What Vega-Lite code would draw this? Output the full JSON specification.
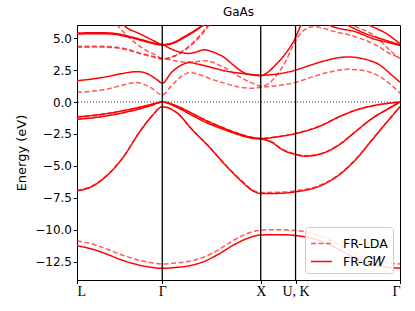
{
  "$schema": "https://vega.github.io/schema/vega-lite/v6.json",
  "width": 323,
  "height": 255,
  "autosize": {"type": "none"},
  "padding": {"left": 77, "top": 25, "right": 15, "bottom": 31},
  "background": "white",
  "title": {"text": "GaAs", "font": "DejaVu Sans", "fontSize": 12, "fontWeight": "normal", "offset": 5, "color": "black"},
  "config": {
    "view": {"stroke": "black", "strokeWidth": 1},
    "axis": {"domainColor": "black", "tickColor": "black", "labelColor": "black", "titleColor": "black", "grid": false, "labelOverlap": false}
  },
  "datasets": {
    "bands": [
      {"m":"FR-GW","b":"Gs","k":0,"E":-11.25},{"m":"FR-GW","b":"Gs","k":0.15,"E":-11.5},{"m":"FR-GW","b":"Gs","k":0.3,"E":-11.9},{"m":"FR-GW","b":"Gs","k":0.45,"E":-12.35},{"m":"FR-GW","b":"Gs","k":0.6,"E":-12.7},{"m":"FR-GW","b":"Gs","k":0.75,"E":-12.93},{"m":"FR-GW","b":"Gs","k":0.866,"E":-13.02},{"m":"FR-GW","b":"Gs","k":1.0,"E":-12.95},{"m":"FR-GW","b":"Gs","k":1.15,"E":-12.8},{"m":"FR-GW","b":"Gs","k":1.3,"E":-12.45},{"m":"FR-GW","b":"Gs","k":1.45,"E":-11.85},{"m":"FR-GW","b":"Gs","k":1.6,"E":-11.15},{"m":"FR-GW","b":"Gs","k":1.75,"E":-10.62},{"m":"FR-GW","b":"Gs","k":1.866,"E":-10.41},{"m":"FR-GW","b":"Gs","k":2.05,"E":-10.38},{"m":"FR-GW","b":"Gs","k":2.22,"E":-10.45},{"m":"FR-GW","b":"Gs","k":2.4,"E":-10.7},{"m":"FR-GW","b":"Gs","k":2.6,"E":-11.3},{"m":"FR-GW","b":"Gs","k":2.8,"E":-12.1},{"m":"FR-GW","b":"Gs","k":3.0,"E":-12.7},{"m":"FR-GW","b":"Gs","k":3.15,"E":-12.93},{"m":"FR-GW","b":"Gs","k":3.281,"E":-13.0},

      {"m":"FR-LDA","b":"Ds","k":0,"E":-10.86},{"m":"FR-LDA","b":"Ds","k":0.15,"E":-11.1},{"m":"FR-LDA","b":"Ds","k":0.3,"E":-11.5},{"m":"FR-LDA","b":"Ds","k":0.45,"E":-11.95},{"m":"FR-LDA","b":"Ds","k":0.6,"E":-12.32},{"m":"FR-LDA","b":"Ds","k":0.75,"E":-12.57},{"m":"FR-LDA","b":"Ds","k":0.866,"E":-12.67},{"m":"FR-LDA","b":"Ds","k":1.0,"E":-12.6},{"m":"FR-LDA","b":"Ds","k":1.15,"E":-12.45},{"m":"FR-LDA","b":"Ds","k":1.3,"E":-12.1},{"m":"FR-LDA","b":"Ds","k":1.45,"E":-11.5},{"m":"FR-LDA","b":"Ds","k":1.6,"E":-10.78},{"m":"FR-LDA","b":"Ds","k":1.75,"E":-10.23},{"m":"FR-LDA","b":"Ds","k":1.866,"E":-10.02},{"m":"FR-LDA","b":"Ds","k":2.05,"E":-10.0},{"m":"FR-LDA","b":"Ds","k":2.22,"E":-10.05},{"m":"FR-LDA","b":"Ds","k":2.4,"E":-10.3},{"m":"FR-LDA","b":"Ds","k":2.6,"E":-10.92},{"m":"FR-LDA","b":"Ds","k":2.8,"E":-11.75},{"m":"FR-LDA","b":"Ds","k":3.0,"E":-12.35},{"m":"FR-LDA","b":"Ds","k":3.15,"E":-12.6},{"m":"FR-LDA","b":"Ds","k":3.281,"E":-12.67},

      {"m":"FR-GW","b":"Gv1","k":0,"E":-6.95},{"m":"FR-GW","b":"Gv1","k":0.144,"E":-6.64},{"m":"FR-GW","b":"Gv1","k":0.308,"E":-5.73},{"m":"FR-GW","b":"Gv1","k":0.472,"E":-4.3},{"m":"FR-GW","b":"Gv1","k":0.636,"E":-2.34},{"m":"FR-GW","b":"Gv1","k":0.768,"E":-1.04},{"m":"FR-GW","b":"Gv1","k":0.866,"E":-0.38},{"m":"FR-GW","b":"Gv1","k":1.026,"E":-0.91},{"m":"FR-GW","b":"Gv1","k":1.159,"E":-2.08},{"m":"FR-GW","b":"Gv1","k":1.326,"E":-3.38},{"m":"FR-GW","b":"Gv1","k":1.493,"E":-4.82},{"m":"FR-GW","b":"Gv1","k":1.659,"E":-6.12},{"m":"FR-GW","b":"Gv1","k":1.793,"E":-6.98},{"m":"FR-GW","b":"Gv1","k":1.866,"E":-7.16},{"m":"FR-GW","b":"Gv1","k":2.04,"E":-7.15},{"m":"FR-GW","b":"Gv1","k":2.22,"E":-7.03},{"m":"FR-GW","b":"Gv1","k":2.489,"E":-6.5},{"m":"FR-GW","b":"Gv1","k":2.658,"E":-5.73},{"m":"FR-GW","b":"Gv1","k":2.826,"E":-4.55},{"m":"FR-GW","b":"Gv1","k":2.995,"E":-2.99},{"m":"FR-GW","b":"Gv1","k":3.163,"E":-1.43},{"m":"FR-GW","b":"Gv1","k":3.281,"E":-0.38},

      {"m":"FR-LDA","b":"Dv1","k":0,"E":-6.9},{"m":"FR-LDA","b":"Dv1","k":0.144,"E":-6.6},{"m":"FR-LDA","b":"Dv1","k":0.308,"E":-5.7},{"m":"FR-LDA","b":"Dv1","k":0.472,"E":-4.28},{"m":"FR-LDA","b":"Dv1","k":0.636,"E":-2.33},{"m":"FR-LDA","b":"Dv1","k":0.768,"E":-1.03},{"m":"FR-LDA","b":"Dv1","k":0.866,"E":-0.36},{"m":"FR-LDA","b":"Dv1","k":1.026,"E":-0.9},{"m":"FR-LDA","b":"Dv1","k":1.159,"E":-2.06},{"m":"FR-LDA","b":"Dv1","k":1.326,"E":-3.36},{"m":"FR-LDA","b":"Dv1","k":1.493,"E":-4.78},{"m":"FR-LDA","b":"Dv1","k":1.659,"E":-6.06},{"m":"FR-LDA","b":"Dv1","k":1.793,"E":-6.92},{"m":"FR-LDA","b":"Dv1","k":1.866,"E":-7.08},{"m":"FR-LDA","b":"Dv1","k":2.04,"E":-7.06},{"m":"FR-LDA","b":"Dv1","k":2.22,"E":-6.95},{"m":"FR-LDA","b":"Dv1","k":2.489,"E":-6.44},{"m":"FR-LDA","b":"Dv1","k":2.658,"E":-5.68},{"m":"FR-LDA","b":"Dv1","k":2.826,"E":-4.52},{"m":"FR-LDA","b":"Dv1","k":2.995,"E":-2.97},{"m":"FR-LDA","b":"Dv1","k":3.163,"E":-1.42},{"m":"FR-LDA","b":"Dv1","k":3.281,"E":-0.36},

      {"m":"FR-GW","b":"Gv2","k":0,"E":-1.17},{"m":"FR-GW","b":"Gv2","k":0.2,"E":-1.02},{"m":"FR-GW","b":"Gv2","k":0.4,"E":-0.78},{"m":"FR-GW","b":"Gv2","k":0.6,"E":-0.47},{"m":"FR-GW","b":"Gv2","k":0.75,"E":-0.2},{"m":"FR-GW","b":"Gv2","k":0.866,"E":0},{"m":"FR-GW","b":"Gv2","k":1.026,"E":-0.35},{"m":"FR-GW","b":"Gv2","k":1.159,"E":-0.85},{"m":"FR-GW","b":"Gv2","k":1.326,"E":-1.5},{"m":"FR-GW","b":"Gv2","k":1.493,"E":-2.05},{"m":"FR-GW","b":"Gv2","k":1.659,"E":-2.52},{"m":"FR-GW","b":"Gv2","k":1.793,"E":-2.8},{"m":"FR-GW","b":"Gv2","k":1.866,"E":-2.86},{"m":"FR-GW","b":"Gv2","k":2.04,"E":-2.72},{"m":"FR-GW","b":"Gv2","k":2.22,"E":-2.47},{"m":"FR-GW","b":"Gv2","k":2.489,"E":-1.82},{"m":"FR-GW","b":"Gv2","k":2.658,"E":-1.17},{"m":"FR-GW","b":"Gv2","k":2.826,"E":-0.65},{"m":"FR-GW","b":"Gv2","k":2.995,"E":-0.31},{"m":"FR-GW","b":"Gv2","k":3.163,"E":-0.1},{"m":"FR-GW","b":"Gv2","k":3.281,"E":0},

      {"m":"FR-GW","b":"Gv3","k":0,"E":-1.35},{"m":"FR-GW","b":"Gv3","k":0.2,"E":-1.2},{"m":"FR-GW","b":"Gv3","k":0.4,"E":-0.95},{"m":"FR-GW","b":"Gv3","k":0.6,"E":-0.6},{"m":"FR-GW","b":"Gv3","k":0.75,"E":-0.28},{"m":"FR-GW","b":"Gv3","k":0.866,"E":0},{"m":"FR-GW","b":"Gv3","k":1.026,"E":-0.45},{"m":"FR-GW","b":"Gv3","k":1.159,"E":-1.0},{"m":"FR-GW","b":"Gv3","k":1.326,"E":-1.65},{"m":"FR-GW","b":"Gv3","k":1.493,"E":-2.15},{"m":"FR-GW","b":"Gv3","k":1.659,"E":-2.6},{"m":"FR-GW","b":"Gv3","k":1.793,"E":-2.85},{"m":"FR-GW","b":"Gv3","k":1.866,"E":-2.9},{"m":"FR-GW","b":"Gv3","k":1.972,"E":-3.12},{"m":"FR-GW","b":"Gv3","k":2.078,"E":-3.7},{"m":"FR-GW","b":"Gv3","k":2.22,"E":-4.11},{"m":"FR-GW","b":"Gv3","k":2.321,"E":-4.24},{"m":"FR-GW","b":"Gv3","k":2.489,"E":-4.03},{"m":"FR-GW","b":"Gv3","k":2.658,"E":-3.38},{"m":"FR-GW","b":"Gv3","k":2.826,"E":-2.34},{"m":"FR-GW","b":"Gv3","k":2.995,"E":-1.3},{"m":"FR-GW","b":"Gv3","k":3.163,"E":-0.52},{"m":"FR-GW","b":"Gv3","k":3.281,"E":0},

      {"m":"FR-LDA","b":"Dv2","k":0,"E":-1.15},{"m":"FR-LDA","b":"Dv2","k":0.2,"E":-1.0},{"m":"FR-LDA","b":"Dv2","k":0.4,"E":-0.77},{"m":"FR-LDA","b":"Dv2","k":0.6,"E":-0.46},{"m":"FR-LDA","b":"Dv2","k":0.75,"E":-0.2},{"m":"FR-LDA","b":"Dv2","k":0.866,"E":0},{"m":"FR-LDA","b":"Dv2","k":1.026,"E":-0.35},{"m":"FR-LDA","b":"Dv2","k":1.159,"E":-0.84},{"m":"FR-LDA","b":"Dv2","k":1.326,"E":-1.48},{"m":"FR-LDA","b":"Dv2","k":1.493,"E":-2.03},{"m":"FR-LDA","b":"Dv2","k":1.659,"E":-2.5},{"m":"FR-LDA","b":"Dv2","k":1.793,"E":-2.78},{"m":"FR-LDA","b":"Dv2","k":1.866,"E":-2.84},{"m":"FR-LDA","b":"Dv2","k":2.04,"E":-2.7},{"m":"FR-LDA","b":"Dv2","k":2.22,"E":-2.45},{"m":"FR-LDA","b":"Dv2","k":2.489,"E":-1.8},{"m":"FR-LDA","b":"Dv2","k":2.658,"E":-1.16},{"m":"FR-LDA","b":"Dv2","k":2.826,"E":-0.64},{"m":"FR-LDA","b":"Dv2","k":2.995,"E":-0.3},{"m":"FR-LDA","b":"Dv2","k":3.163,"E":-0.1},{"m":"FR-LDA","b":"Dv2","k":3.281,"E":0},

      {"m":"FR-LDA","b":"Dv3","k":0,"E":-1.33},{"m":"FR-LDA","b":"Dv3","k":0.2,"E":-1.18},{"m":"FR-LDA","b":"Dv3","k":0.4,"E":-0.93},{"m":"FR-LDA","b":"Dv3","k":0.6,"E":-0.59},{"m":"FR-LDA","b":"Dv3","k":0.75,"E":-0.27},{"m":"FR-LDA","b":"Dv3","k":0.866,"E":0},{"m":"FR-LDA","b":"Dv3","k":1.026,"E":-0.44},{"m":"FR-LDA","b":"Dv3","k":1.159,"E":-0.98},{"m":"FR-LDA","b":"Dv3","k":1.326,"E":-1.62},{"m":"FR-LDA","b":"Dv3","k":1.493,"E":-2.12},{"m":"FR-LDA","b":"Dv3","k":1.659,"E":-2.57},{"m":"FR-LDA","b":"Dv3","k":1.793,"E":-2.82},{"m":"FR-LDA","b":"Dv3","k":1.866,"E":-2.87},{"m":"FR-LDA","b":"Dv3","k":1.972,"E":-3.08},{"m":"FR-LDA","b":"Dv3","k":2.078,"E":-3.65},{"m":"FR-LDA","b":"Dv3","k":2.22,"E":-4.06},{"m":"FR-LDA","b":"Dv3","k":2.321,"E":-4.2},{"m":"FR-LDA","b":"Dv3","k":2.489,"E":-4.0},{"m":"FR-LDA","b":"Dv3","k":2.658,"E":-3.35},{"m":"FR-LDA","b":"Dv3","k":2.826,"E":-2.32},{"m":"FR-LDA","b":"Dv3","k":2.995,"E":-1.29},{"m":"FR-LDA","b":"Dv3","k":3.163,"E":-0.51},{"m":"FR-LDA","b":"Dv3","k":3.281,"E":0},

      {"m":"FR-GW","b":"Gc1","k":0,"E":1.67},{"m":"FR-GW","b":"Gc1","k":0.15,"E":1.8},{"m":"FR-GW","b":"Gc1","k":0.313,"E":2.0},{"m":"FR-GW","b":"Gc1","k":0.45,"E":2.22},{"m":"FR-GW","b":"Gc1","k":0.613,"E":2.38},{"m":"FR-GW","b":"Gc1","k":0.72,"E":2.2},{"m":"FR-GW","b":"Gc1","k":0.813,"E":1.75},{"m":"FR-GW","b":"Gc1","k":0.866,"E":1.48},{"m":"FR-GW","b":"Gc1","k":0.96,"E":2.32},{"m":"FR-GW","b":"Gc1","k":1.06,"E":2.89},{"m":"FR-GW","b":"Gc1","k":1.144,"E":3.1},{"m":"FR-GW","b":"Gc1","k":1.227,"E":2.97},{"m":"FR-GW","b":"Gc1","k":1.361,"E":2.71},{"m":"FR-GW","b":"Gc1","k":1.495,"E":2.45},{"m":"FR-GW","b":"Gc1","k":1.662,"E":2.25},{"m":"FR-GW","b":"Gc1","k":1.829,"E":2.12},{"m":"FR-GW","b":"Gc1","k":1.866,"E":2.1},{"m":"FR-GW","b":"Gc1","k":2.04,"E":2.2},{"m":"FR-GW","b":"Gc1","k":2.22,"E":2.5},{"m":"FR-GW","b":"Gc1","k":2.374,"E":2.89},{"m":"FR-GW","b":"Gc1","k":2.55,"E":3.3},{"m":"FR-GW","b":"Gc1","k":2.75,"E":3.53},{"m":"FR-GW","b":"Gc1","k":2.92,"E":3.36},{"m":"FR-GW","b":"Gc1","k":3.06,"E":2.97},{"m":"FR-GW","b":"Gc1","k":3.2,"E":2.1},{"m":"FR-GW","b":"Gc1","k":3.281,"E":1.55},

      {"m":"FR-GW","b":"Gc2a","k":0,"E":5.4},{"m":"FR-GW","b":"Gc2a","k":0.2,"E":5.43},{"m":"FR-GW","b":"Gc2a","k":0.35,"E":5.4},{"m":"FR-GW","b":"Gc2a","k":0.5,"E":5.2},{"m":"FR-GW","b":"Gc2a","k":0.65,"E":4.9},{"m":"FR-GW","b":"Gc2a","k":0.78,"E":4.62},{"m":"FR-GW","b":"Gc2a","k":0.866,"E":4.5},{"m":"FR-GW","b":"Gc2a","k":0.96,"E":4.14},{"m":"FR-GW","b":"Gc2a","k":1.06,"E":3.88},{"m":"FR-GW","b":"Gc2a","k":1.127,"E":3.8},{"m":"FR-GW","b":"Gc2a","k":1.194,"E":3.88},{"m":"FR-GW","b":"Gc2a","k":1.294,"E":4.09},{"m":"FR-GW","b":"Gc2a","k":1.394,"E":3.88},{"m":"FR-GW","b":"Gc2a","k":1.495,"E":3.49},{"m":"FR-GW","b":"Gc2a","k":1.595,"E":2.85},{"m":"FR-GW","b":"Gc2a","k":1.695,"E":2.3},{"m":"FR-GW","b":"Gc2a","k":1.795,"E":2.1},{"m":"FR-GW","b":"Gc2a","k":1.866,"E":2.06},{"m":"FR-GW","b":"Gc2a","k":1.95,"E":2.4},{"m":"FR-GW","b":"Gc2a","k":2.008,"E":2.84},{"m":"FR-GW","b":"Gc2a","k":2.114,"E":3.75},{"m":"FR-GW","b":"Gc2a","k":2.22,"E":5.05},{"m":"FR-GW","b":"Gc2a","k":2.273,"E":5.97},{"m":"FR-GW","b":"Gc2a","k":2.33,"E":6.5},{"m":"FR-GW","b":"Gc2a","k":2.45,"E":6.6},{"m":"FR-GW","b":"Gc2a","k":2.57,"E":6.0},{"m":"FR-GW","b":"Gc2a","k":2.841,"E":5.47},{"m":"FR-GW","b":"Gc2a","k":3.01,"E":4.95},{"m":"FR-GW","b":"Gc2a","k":3.146,"E":4.69},{"m":"FR-GW","b":"Gc2a","k":3.281,"E":4.43},

      {"m":"FR-GW","b":"Gc2b","k":0,"E":5.32},{"m":"FR-GW","b":"Gc2b","k":0.2,"E":5.35},{"m":"FR-GW","b":"Gc2b","k":0.35,"E":5.32},{"m":"FR-GW","b":"Gc2b","k":0.5,"E":5.12},{"m":"FR-GW","b":"Gc2b","k":0.65,"E":4.83},{"m":"FR-GW","b":"Gc2b","k":0.78,"E":4.56},{"m":"FR-GW","b":"Gc2b","k":0.866,"E":4.45},{"m":"FR-GW","b":"Gc2b","k":0.96,"E":4.56},{"m":"FR-GW","b":"Gc2b","k":1.094,"E":5.06},{"m":"FR-GW","b":"Gc2b","k":1.227,"E":5.7},{"m":"FR-GW","b":"Gc2b","k":1.3,"E":6.1},{"m":"FR-GW","b":"Gc2b","k":1.4,"E":6.6},

      {"m":"FR-GW","b":"Gc3","k":0.4,"E":6.6},{"m":"FR-GW","b":"Gc3","k":0.48,"E":5.97},{"m":"FR-GW","b":"Gc3","k":0.646,"E":5.31},{"m":"FR-GW","b":"Gc3","k":0.779,"E":4.8},{"m":"FR-GW","b":"Gc3","k":0.866,"E":4.5},{"m":"FR-GW","b":"Gc3","k":0.96,"E":4.61},{"m":"FR-GW","b":"Gc3","k":1.094,"E":5.13},{"m":"FR-GW","b":"Gc3","k":1.227,"E":5.76},{"m":"FR-GW","b":"Gc3","k":1.294,"E":6.1},{"m":"FR-GW","b":"Gc3","k":1.4,"E":6.7},

      {"m":"FR-GW","b":"Gc4","k":2.85,"E":6.5},{"m":"FR-GW","b":"Gc4","k":2.976,"E":5.99},{"m":"FR-GW","b":"Gc4","k":3.146,"E":5.34},{"m":"FR-GW","b":"Gc4","k":3.281,"E":4.56},
      {"m":"FR-GW","b":"Gc5","k":2.6,"E":6.6},{"m":"FR-GW","b":"Gc5","k":2.75,"E":6.0},{"m":"FR-GW","b":"Gc5","k":2.95,"E":5.3},{"m":"FR-GW","b":"Gc5","k":3.15,"E":4.8},{"m":"FR-GW","b":"Gc5","k":3.281,"E":4.47},

      {"m":"FR-LDA","b":"Dc1","k":0,"E":0.76},{"m":"FR-LDA","b":"Dc1","k":0.15,"E":0.85},{"m":"FR-LDA","b":"Dc1","k":0.313,"E":1.02},{"m":"FR-LDA","b":"Dc1","k":0.45,"E":1.3},{"m":"FR-LDA","b":"Dc1","k":0.6,"E":1.52},{"m":"FR-LDA","b":"Dc1","k":0.746,"E":1.15},{"m":"FR-LDA","b":"Dc1","k":0.866,"E":0.55},{"m":"FR-LDA","b":"Dc1","k":0.96,"E":1.28},{"m":"FR-LDA","b":"Dc1","k":1.06,"E":2.0},{"m":"FR-LDA","b":"Dc1","k":1.144,"E":2.32},{"m":"FR-LDA","b":"Dc1","k":1.227,"E":2.19},{"m":"FR-LDA","b":"Dc1","k":1.361,"E":1.8},{"m":"FR-LDA","b":"Dc1","k":1.495,"E":1.48},{"m":"FR-LDA","b":"Dc1","k":1.662,"E":1.15},{"m":"FR-LDA","b":"Dc1","k":1.78,"E":1.08},{"m":"FR-LDA","b":"Dc1","k":1.866,"E":1.15},{"m":"FR-LDA","b":"Dc1","k":2.04,"E":1.28},{"m":"FR-LDA","b":"Dc1","k":2.22,"E":1.54},{"m":"FR-LDA","b":"Dc1","k":2.374,"E":1.93},{"m":"FR-LDA","b":"Dc1","k":2.55,"E":2.32},{"m":"FR-LDA","b":"Dc1","k":2.75,"E":2.56},{"m":"FR-LDA","b":"Dc1","k":2.92,"E":2.45},{"m":"FR-LDA","b":"Dc1","k":3.06,"E":2.06},{"m":"FR-LDA","b":"Dc1","k":3.2,"E":1.28},{"m":"FR-LDA","b":"Dc1","k":3.281,"E":0.7},

      {"m":"FR-LDA","b":"Dc2a","k":0,"E":4.35},{"m":"FR-LDA","b":"Dc2a","k":0.2,"E":4.37},{"m":"FR-LDA","b":"Dc2a","k":0.35,"E":4.33},{"m":"FR-LDA","b":"Dc2a","k":0.48,"E":4.2},{"m":"FR-LDA","b":"Dc2a","k":0.646,"E":3.83},{"m":"FR-LDA","b":"Dc2a","k":0.779,"E":3.57},{"m":"FR-LDA","b":"Dc2a","k":0.866,"E":3.41},{"m":"FR-LDA","b":"Dc2a","k":0.96,"E":3.28},{"m":"FR-LDA","b":"Dc2a","k":1.06,"E":3.16},{"m":"FR-LDA","b":"Dc2a","k":1.16,"E":3.12},{"m":"FR-LDA","b":"Dc2a","k":1.294,"E":3.23},{"m":"FR-LDA","b":"Dc2a","k":1.495,"E":2.71},{"m":"FR-LDA","b":"Dc2a","k":1.662,"E":1.93},{"m":"FR-LDA","b":"Dc2a","k":1.829,"E":1.33},{"m":"FR-LDA","b":"Dc2a","k":1.866,"E":1.23},{"m":"FR-LDA","b":"Dc2a","k":1.95,"E":1.45},{"m":"FR-LDA","b":"Dc2a","k":2.008,"E":1.93},{"m":"FR-LDA","b":"Dc2a","k":2.114,"E":3.1},{"m":"FR-LDA","b":"Dc2a","k":2.185,"E":4.27},{"m":"FR-LDA","b":"Dc2a","k":2.255,"E":5.19},{"m":"FR-LDA","b":"Dc2a","k":2.31,"E":5.65},{"m":"FR-LDA","b":"Dc2a","k":2.4,"E":5.9},{"m":"FR-LDA","b":"Dc2a","k":2.5,"E":5.78},{"m":"FR-LDA","b":"Dc2a","k":2.6,"E":5.55},{"m":"FR-LDA","b":"Dc2a","k":2.841,"E":5.08},{"m":"FR-LDA","b":"Dc2a","k":3.044,"E":4.43},{"m":"FR-LDA","b":"Dc2a","k":3.179,"E":3.78},{"m":"FR-LDA","b":"Dc2a","k":3.281,"E":3.47},

      {"m":"FR-LDA","b":"Dc2b","k":0,"E":4.28},{"m":"FR-LDA","b":"Dc2b","k":0.2,"E":4.3},{"m":"FR-LDA","b":"Dc2b","k":0.35,"E":4.26},{"m":"FR-LDA","b":"Dc2b","k":0.48,"E":4.13},{"m":"FR-LDA","b":"Dc2b","k":0.646,"E":3.77},{"m":"FR-LDA","b":"Dc2b","k":0.779,"E":3.5},{"m":"FR-LDA","b":"Dc2b","k":0.866,"E":3.36},{"m":"FR-LDA","b":"Dc2b","k":0.993,"E":3.62},{"m":"FR-LDA","b":"Dc2b","k":1.16,"E":4.53},{"m":"FR-LDA","b":"Dc2b","k":1.26,"E":5.31},{"m":"FR-LDA","b":"Dc2b","k":1.327,"E":5.97},{"m":"FR-LDA","b":"Dc2b","k":1.4,"E":6.6},

      {"m":"FR-LDA","b":"Dc3","k":0.35,"E":6.5},{"m":"FR-LDA","b":"Dc3","k":0.413,"E":5.97},{"m":"FR-LDA","b":"Dc3","k":0.546,"E":4.92},{"m":"FR-LDA","b":"Dc3","k":0.68,"E":4.14},{"m":"FR-LDA","b":"Dc3","k":0.813,"E":3.62},{"m":"FR-LDA","b":"Dc3","k":0.866,"E":3.38},{"m":"FR-LDA","b":"Dc3","k":0.993,"E":3.6},{"m":"FR-LDA","b":"Dc3","k":1.16,"E":4.45},{"m":"FR-LDA","b":"Dc3","k":1.26,"E":5.22},{"m":"FR-LDA","b":"Dc3","k":1.33,"E":5.9},{"m":"FR-LDA","b":"Dc3","k":1.4,"E":6.5},

      {"m":"FR-LDA","b":"Dc4","k":2.6,"E":6.4},{"m":"FR-LDA","b":"Dc4","k":2.841,"E":5.86},{"m":"FR-LDA","b":"Dc4","k":3.044,"E":5.08},{"m":"FR-LDA","b":"Dc4","k":3.179,"E":4.04},{"m":"FR-LDA","b":"Dc4","k":3.281,"E":3.39}
    ],
    "kpts": [{"k": 0.866}, {"k": 1.866}, {"k": 2.22}],
    "zero": [{"E": 0}]
  },
  "encoding": {
    "y": {"field": "E", "type": "quantitative",
          "scale": {"domain": [-13.93, 6.03], "nice": false, "zero": false},
          "axis": {"values": [-12.5, -10, -7.5, -5, -2.5, 0, 2.5, 5], "title": "Energy (eV)", "titleFont": "DejaVu Sans", "titleFontSize": 13, "titleFontWeight": "normal", "labelFont": "DejaVu Sans", "labelFontSize": 12, "tickSize": 3.5, "titlePadding": 6, "labelOverlap": false, "labelFlush": false,
                   "labelExpr": "replace(format(datum.value, '.1f'), '-', '−')"}}
  },
  "layer": [
    {
      "data": {"name": "zero"},
      "mark": {"type": "rule", "color": "black", "strokeWidth": 1, "strokeDash": [1, 2], "opacity": 0.8},
      "encoding": {}
    },
    {
      "data": {"name": "bands"},
      "mark": {"type": "line", "color": "#ff0000", "strokeWidth": 1.5, "interpolate": "monotone", "clip": true},
      "encoding": {
        "x": {"field": "k", "type": "quantitative",
              "scale": {"domain": [0, 3.281], "nice": false, "zero": false},
              "axis": {"values": [0, 0.866, 1.866, 2.22, 3.281], "title": null, "labelFont": "Liberation Serif", "labelFontSize": 14, "tickSize": 3.5, "labelPadding": 1, "labelOverlap": false,
                       "labelExpr": "datum.value < 0.5 ? 'L' : datum.value < 1 ? 'Γ' : datum.value < 2 ? 'X' : datum.value < 3 ? 'U, K' : 'Γ'"}},
        "detail": {"field": "b"},
        "strokeDash": {"field": "m", "type": "nominal",
                       "scale": {"domain": ["FR-LDA", "FR-GW"], "range": [[5, 2.5], [1, 0]]},
                       "legend": {"title": null, "orient": "bottom-right", "offset": 7, "fillColor": "rgba(255,255,255,0.85)", "strokeColor": "#cccccc", "cornerRadius": 3, "padding": 5, "symbolType": "stroke", "symbolSize": 440, "symbolStrokeWidth": 1.5, "symbolStrokeColor": "#ff0000", "labelFont": "DejaVu Sans", "labelFontSize": 12.5, "rowPadding": 0, "labelOffset": 10,
                                  "labelExpr": "datum.label == 'FR-GW' ? 'FR-𝐺𝑊' : datum.label"}},
        "opacity": {"field": "m", "type": "nominal", "scale": {"domain": ["FR-LDA", "FR-GW"], "range": [0.65, 1]}, "legend": null}
      }
    },
    {
      "data": {"name": "kpts"},
      "mark": {"type": "rule", "color": "black", "strokeWidth": 1.3},
      "encoding": {"x": {"field": "k", "type": "quantitative"}, "y": null}
    }
  ]
}
